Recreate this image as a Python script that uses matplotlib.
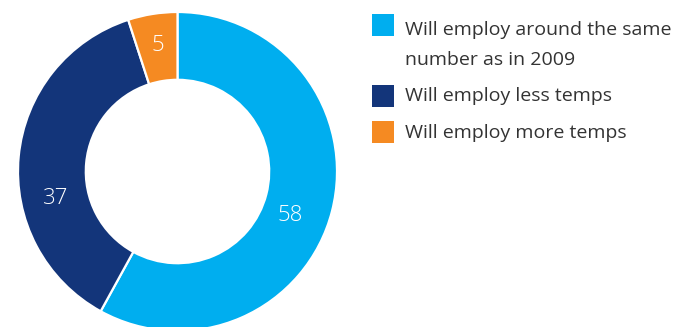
import matplotlib
matplotlib.use("Agg")
import matplotlib.pyplot as plt
from matplotlib.patches import Rectangle
import numpy as np

# Survey answers (share of respondents, %)
categories = [
    "Will employ around the same\nnumber as in 2009",
    "Will employ less temps",
    "Will employ more temps",
]
values = [58, 37, 5]
colors = ["#00AEEF", "#13357A", "#F58A22"]

W, H = 686, 327
fig = plt.figure(figsize=(W / 100, H / 100), dpi=100)
fig.patch.set_facecolor("white")

# Donut placement in pixels
cx, cy, R = 177.5, 171.5, 159.5
ax = fig.add_axes([(cx - R) / W, (H - cy - R) / H, 2 * R / W, 2 * R / H])

inner = 0.575
wedges, _ = ax.pie(
    values, colors=colors, startangle=90, counterclock=False, radius=1.0,
    wedgeprops=dict(width=1 - inner, edgecolor="white", linewidth=1.6),
)
ax.set_xlim(-1, 1)
ax.set_ylim(-1, 1)
ax.set_aspect("equal")
ax.axis("off")

# Value labels placed on the ring
label_r = [0.76, 0.78, 0.80]
angle_shift = [-7, 18, 0]
for w, v, r, s in zip(wedges, values, label_r, angle_shift):
    mid = np.deg2rad((w.theta1 + w.theta2) / 2 + s)
    ax.text(r * np.cos(mid), r * np.sin(mid), str(v), color="white",
            fontsize=16, family="Open Sans", weight="light",
            ha="center", va="center")

# Legend drawn by hand
sq = 22
box_x = 372
box_tops = [14, 85, 121]
base_lines = [[35, 65], [101.5], [138]]
for lab, col, top, bases in zip(categories, colors, box_tops, base_lines):
    fig.patches.append(Rectangle((box_x / W, (H - top - sq) / H), sq / W, sq / H,
                                 transform=fig.transFigure, facecolor=col,
                                 edgecolor="none"))
    for line, b in zip(lab.split("\n"), bases):
        fig.text(405 / W, (H - b) / H, line, fontsize=14, family="Open Sans",
                 color="#333333", ha="left", va="baseline")

fig.savefig("out.png", dpi=100, facecolor="white")
